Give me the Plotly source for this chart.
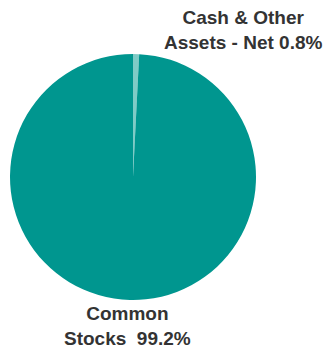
import plotly.graph_objects as go

labels = ["Cash & Other<br>Assets - Net", "Common<br>Stocks"]
values = [0.8, 99.2]
colors = ["#7fcbc6", "#00968f"]

W, H = 324, 348
cx, cy, r = 133, 177, 123

fig = go.Figure(go.Pie(
    labels=labels, values=values, sort=False, direction="clockwise", rotation=0,
    marker=dict(colors=colors, line=dict(width=0)),
    textinfo="none", hoverinfo="label+percent", showlegend=False,
    domain=dict(x=[(cx - r) / W, (cx + r) / W], y=[1 - (cy + r) / H, 1 - (cy - r) / H]),
))

font = dict(family="Liberation Sans, Arial, sans-serif", size=19, color="#333333")
fig.add_annotation(x=243 / W, y=1 - 30 / H, xref="paper", yref="paper",
                   xanchor="center", yanchor="middle",
                   text="<b>%s %.1f%%</b>" % (labels[0], values[0]),
                   showarrow=False, font=font, align="center")
fig.add_annotation(x=127 / W, y=1 - 326 / H, xref="paper", yref="paper",
                   xanchor="center", yanchor="middle",
                   text="<b>%s  %.1f%%</b>" % (labels[1], values[1]),
                   showarrow=False, font=font, align="center")

fig.update_layout(width=W, height=H, margin=dict(l=0, r=0, t=0, b=0),
                  paper_bgcolor="white", plot_bgcolor="white")
fig.write_html("out.html")
